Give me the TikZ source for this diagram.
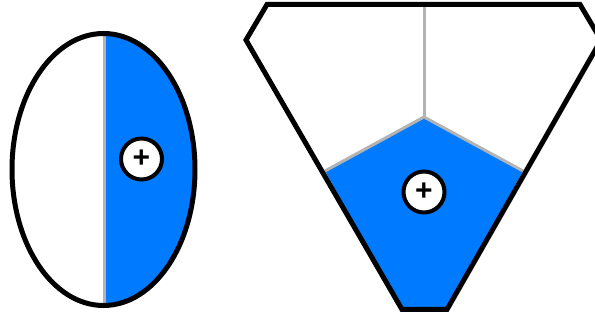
\documentclass[tikz,border=0pt]{standalone}
\usepackage{fontspec}
\setmainfont{Liberation Sans}
\definecolor{fillblue}{HTML}{007AFF}
\definecolor{divgray}{HTML}{B3B3B3}
\begin{document}
\begin{tikzpicture}[x=1pt,y=-1pt,
  outline/.style={line width=5pt,draw=black},
  divider/.style={line width=3pt,draw=divgray},
  plusmark/.style={circle,draw=black,fill=white,line width=4pt,minimum size=41pt,inner sep=0pt,font=\fontsize{30}{30}\selectfont\bfseries}]
\useasboundingbox (0,0) rectangle (595,320);
% left ellipse
\coordinate (ec) at (103.5,169.5);
\begin{scope}
  \clip (ec) ellipse [x radius=91.5pt, y radius=136pt];
  \fill[fillblue] (104,0) rectangle (200,320);
\end{scope}
\coordinate (et) at (104,33);
\coordinate (eb) at (104,306);
\draw[divider] (et) -- (eb);
\draw[outline] (ec) ellipse [x radius=91.5pt, y radius=136pt];
\node[plusmark] (p1) at (141.5,159) {+};
% right shape
\coordinate (a) at (267,4.5);
\coordinate (b) at (580,4.5);
\coordinate (c) at (601,40);
\coordinate (d) at (447,309.5);
\coordinate (e) at (402,309.5);
\coordinate (f) at (246,40);
\coordinate (top) at (424,4.5);
\coordinate (m) at (424,117);
\coordinate (ml) at (325,171);
\coordinate (mr) at (523,171);
\fill[fillblue] (m) -- (mr) -- (d) -- (e) -- (ml) -- cycle;
\draw[divider] (top) -- (m);
\draw[divider] (ml) -- (m) -- (mr);
\draw[outline] (a) -- (b) -- (c) -- (d) -- (e) -- (f) -- cycle;
\node[plusmark] (p2) at (424,192) {+};
\end{tikzpicture}
\end{document}
